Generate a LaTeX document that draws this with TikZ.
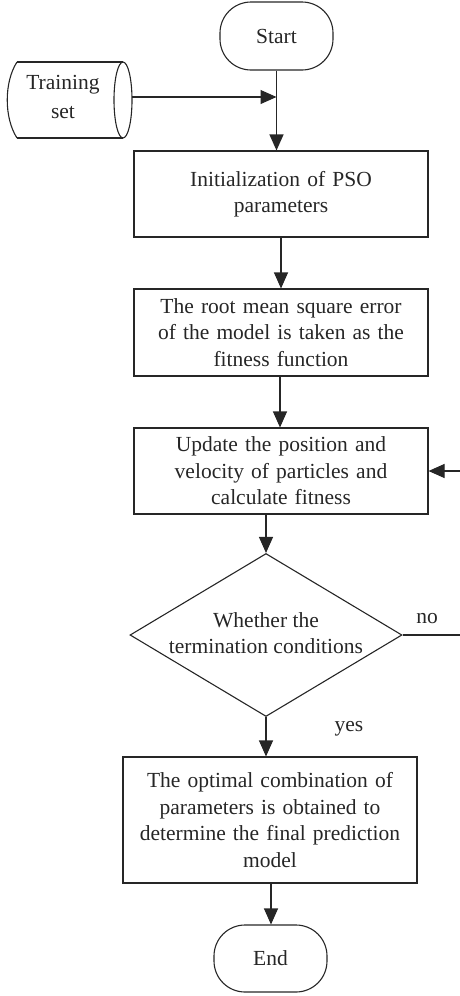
\documentclass[tikz,border=0pt]{standalone}
\usepackage{fontspec}
\setmainfont{Liberation Serif}
\usetikzlibrary{shapes.geometric,arrows.meta}
\begin{document}
\begin{tikzpicture}[x=1pt,y=-1pt,
  lw/.style={line width=1.1pt, draw=black!85},
  txt/.style={font=\fontsize{21.5}{26.5}\selectfont, align=center, text=black!85},
  box/.style={lw, txt, minimum width=294pt, minimum height=86pt, text width=290pt, inner sep=0pt},
  term/.style={lw, txt, rounded corners=31pt, minimum width=113pt, minimum height=68pt, inner sep=0pt},
  dec/.style={lw, diamond, minimum width=272pt, minimum height=163pt, inner sep=0pt},
  arr/.style={lw, -{Triangle[length=16pt,width=14pt]}},
  ln/.style={lw}]
\useasboundingbox (0,0) rectangle (459,996);

\node[term] (start) at (276.5,36) {Start};
\node[box] (b1) at (281,194) {Initialization of PSO\\parameters};
\node[box, minimum height=87pt] (b2) at (281,332.5) {The root mean square error\\of the model is taken as the\\fitness function};
\node[box] (b3) at (281,471) {Update the position and\\velocity of particles and\\calculate fitness};
\node[dec] (dm) at (266,635) {};
\node[txt] (dmt) at (266,633) {Whether the\\termination conditions};
\node[box, minimum height=126pt] (b4) at (270,820) {The optimal combination of\\parameters is obtained to\\determine the final prediction\\model};
\node[term, minimum height=67pt] (end) at (270.5,958.5) {End};

% training set cylinder
\draw[ln] (17,62) -- (123,62);
\draw[ln] (17,138) -- (123,138);
\draw[ln] (17,62) .. controls (4,82) and (4,118) .. (17,138);
\draw[ln] (123,100) ellipse (9pt and 38pt);
\node[txt, font=\fontsize{21.5}{29}\selectfont] (train) at (63,97) {Training\\set};
\coordinate (tsr) at (132,97);

% connectors
\draw[arr] (start.south) -- (start.south |- b1.north);
\draw[arr] (tsr) -- (tsr -| start.south);
\draw[arr] (b1.south) -- (b2.north);
\draw[arr] ([xshift=-1pt]b2.south) -- ([xshift=-1pt]b2.north |- b3.north);
\draw[arr] (dm.north |- b3.south) -- (dm.north);
\draw[arr] (dm.south) -- (dm.south |- b4.north);
\draw[arr] ([xshift=1pt]b4.south) -- ([xshift=1pt]b4.south |- end.north);
\draw[arr] (dm.east) -- ++(60,0) |- (b3.east);
\node[txt] (no) at (427,619) {no};
\node[txt] (yes) at (349,729) {yes};
\end{tikzpicture}
\end{document}
